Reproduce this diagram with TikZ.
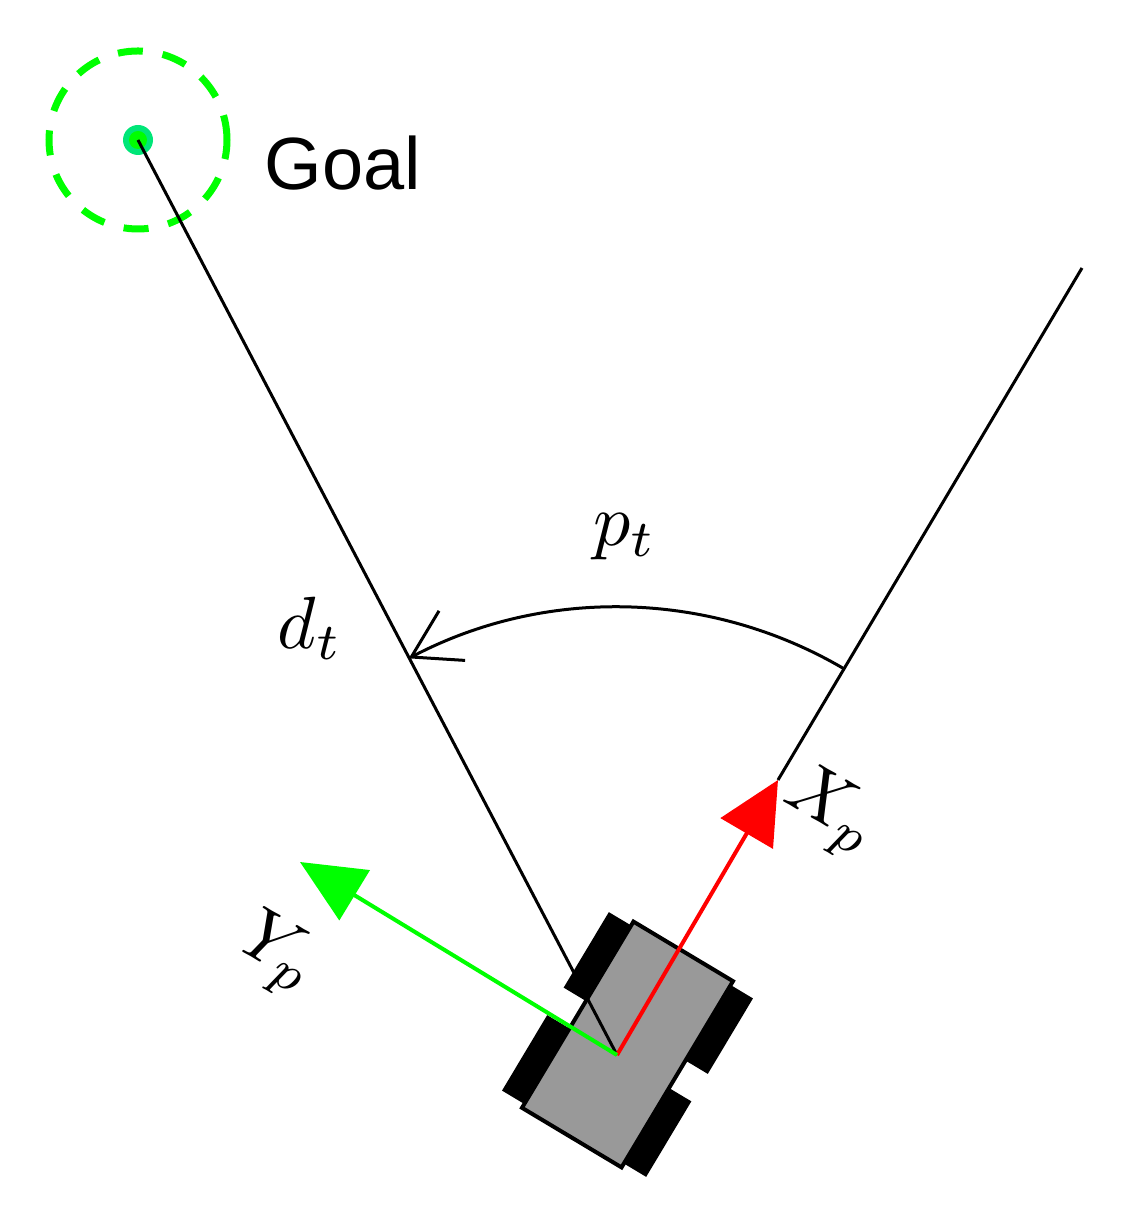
\documentclass[tikz,border=0pt]{standalone}
\usepackage{fontspec}
\newfontfamily\labelfont{Liberation Sans}
\usetikzlibrary{arrows.meta}
\definecolor{gr}{RGB}{0,255,0}
\definecolor{goaldot}{RGB}{0,230,120}
\definecolor{body}{RGB}{153,153,153}
\tikzset{
  guide/.style={black,line width=3pt},
  axisred/.style={red,line width=4pt,-{Triangle[length=62pt,width=60pt]}},
  axisgreen/.style={gr,line width=4pt,-{Triangle[length=64pt,width=58pt]}},
  wheel/.style={fill=black,draw=none},
  mathlbl/.style={scale=7.4,inner sep=0pt}
}
\begin{document}
\begin{tikzpicture}[x=1pt,y=1pt]
\useasboundingbox (0,0) rectangle (1122,1217);
% goal
\coordinate (G) at (138,1077);
\coordinate (C) at (617,162);
\coordinate (R) at (1082,949);
\draw[gr,line width=7pt,dash pattern=on 25pt off 20pt] (G) circle[radius=89];
\fill[goaldot] (G) circle[radius=15];
\fill[gr] (G) circle[radius=9];
\node[font=\labelfont\fontsize{74}{74}\selectfont,inner sep=0pt] (goal) at (343,1054) {Goal};
% robot body
\begin{scope}[shift={(627.5,172.5)},rotate=-30.9]
  \filldraw[fill=body,draw=black,line width=4pt] (-58,-108.5) rectangle (58,108.5);
\end{scope}
% lines
\draw[guide] (G) -- (C);
\coordinate (Xtip) at (778,437);
\coordinate (Ytip) at (300,355);
\draw[guide] (Xtip) -- (R);
% wheels
\begin{scope}[shift={(627.5,172.5)},rotate=-30.9]
  \fill[wheel] (58,16) rectangle (84,104);
  \fill[wheel] (58,-16) rectangle (84,-104);
  \fill[wheel] (-58,16) rectangle (-84,104);
  \fill[wheel] (-58,-16) rectangle (-84,-104);
\end{scope}
% axes
\draw[axisred] (C) -- (Xtip);
\draw[axisgreen] (C) -- (Ytip);
% angle arc
\draw[line width=3pt,-{Straight Barb[length=46pt,width=56pt,line width=3pt]}]
  ([shift={(59.6:448)}]C) arc[start angle=59.6,end angle=117.7,radius=448];
% labels
\node[mathlbl] (pt) at (625,680) {$p_t$};
\node[mathlbl] (dt) at (310,589) {$d_t$};
\node[mathlbl,rotate=-30] (xp) at (830,405) {$X_p$};
\node[mathlbl,rotate=-30] (yp) at (277,262) {$Y_p$};
\end{tikzpicture}
\end{document}
